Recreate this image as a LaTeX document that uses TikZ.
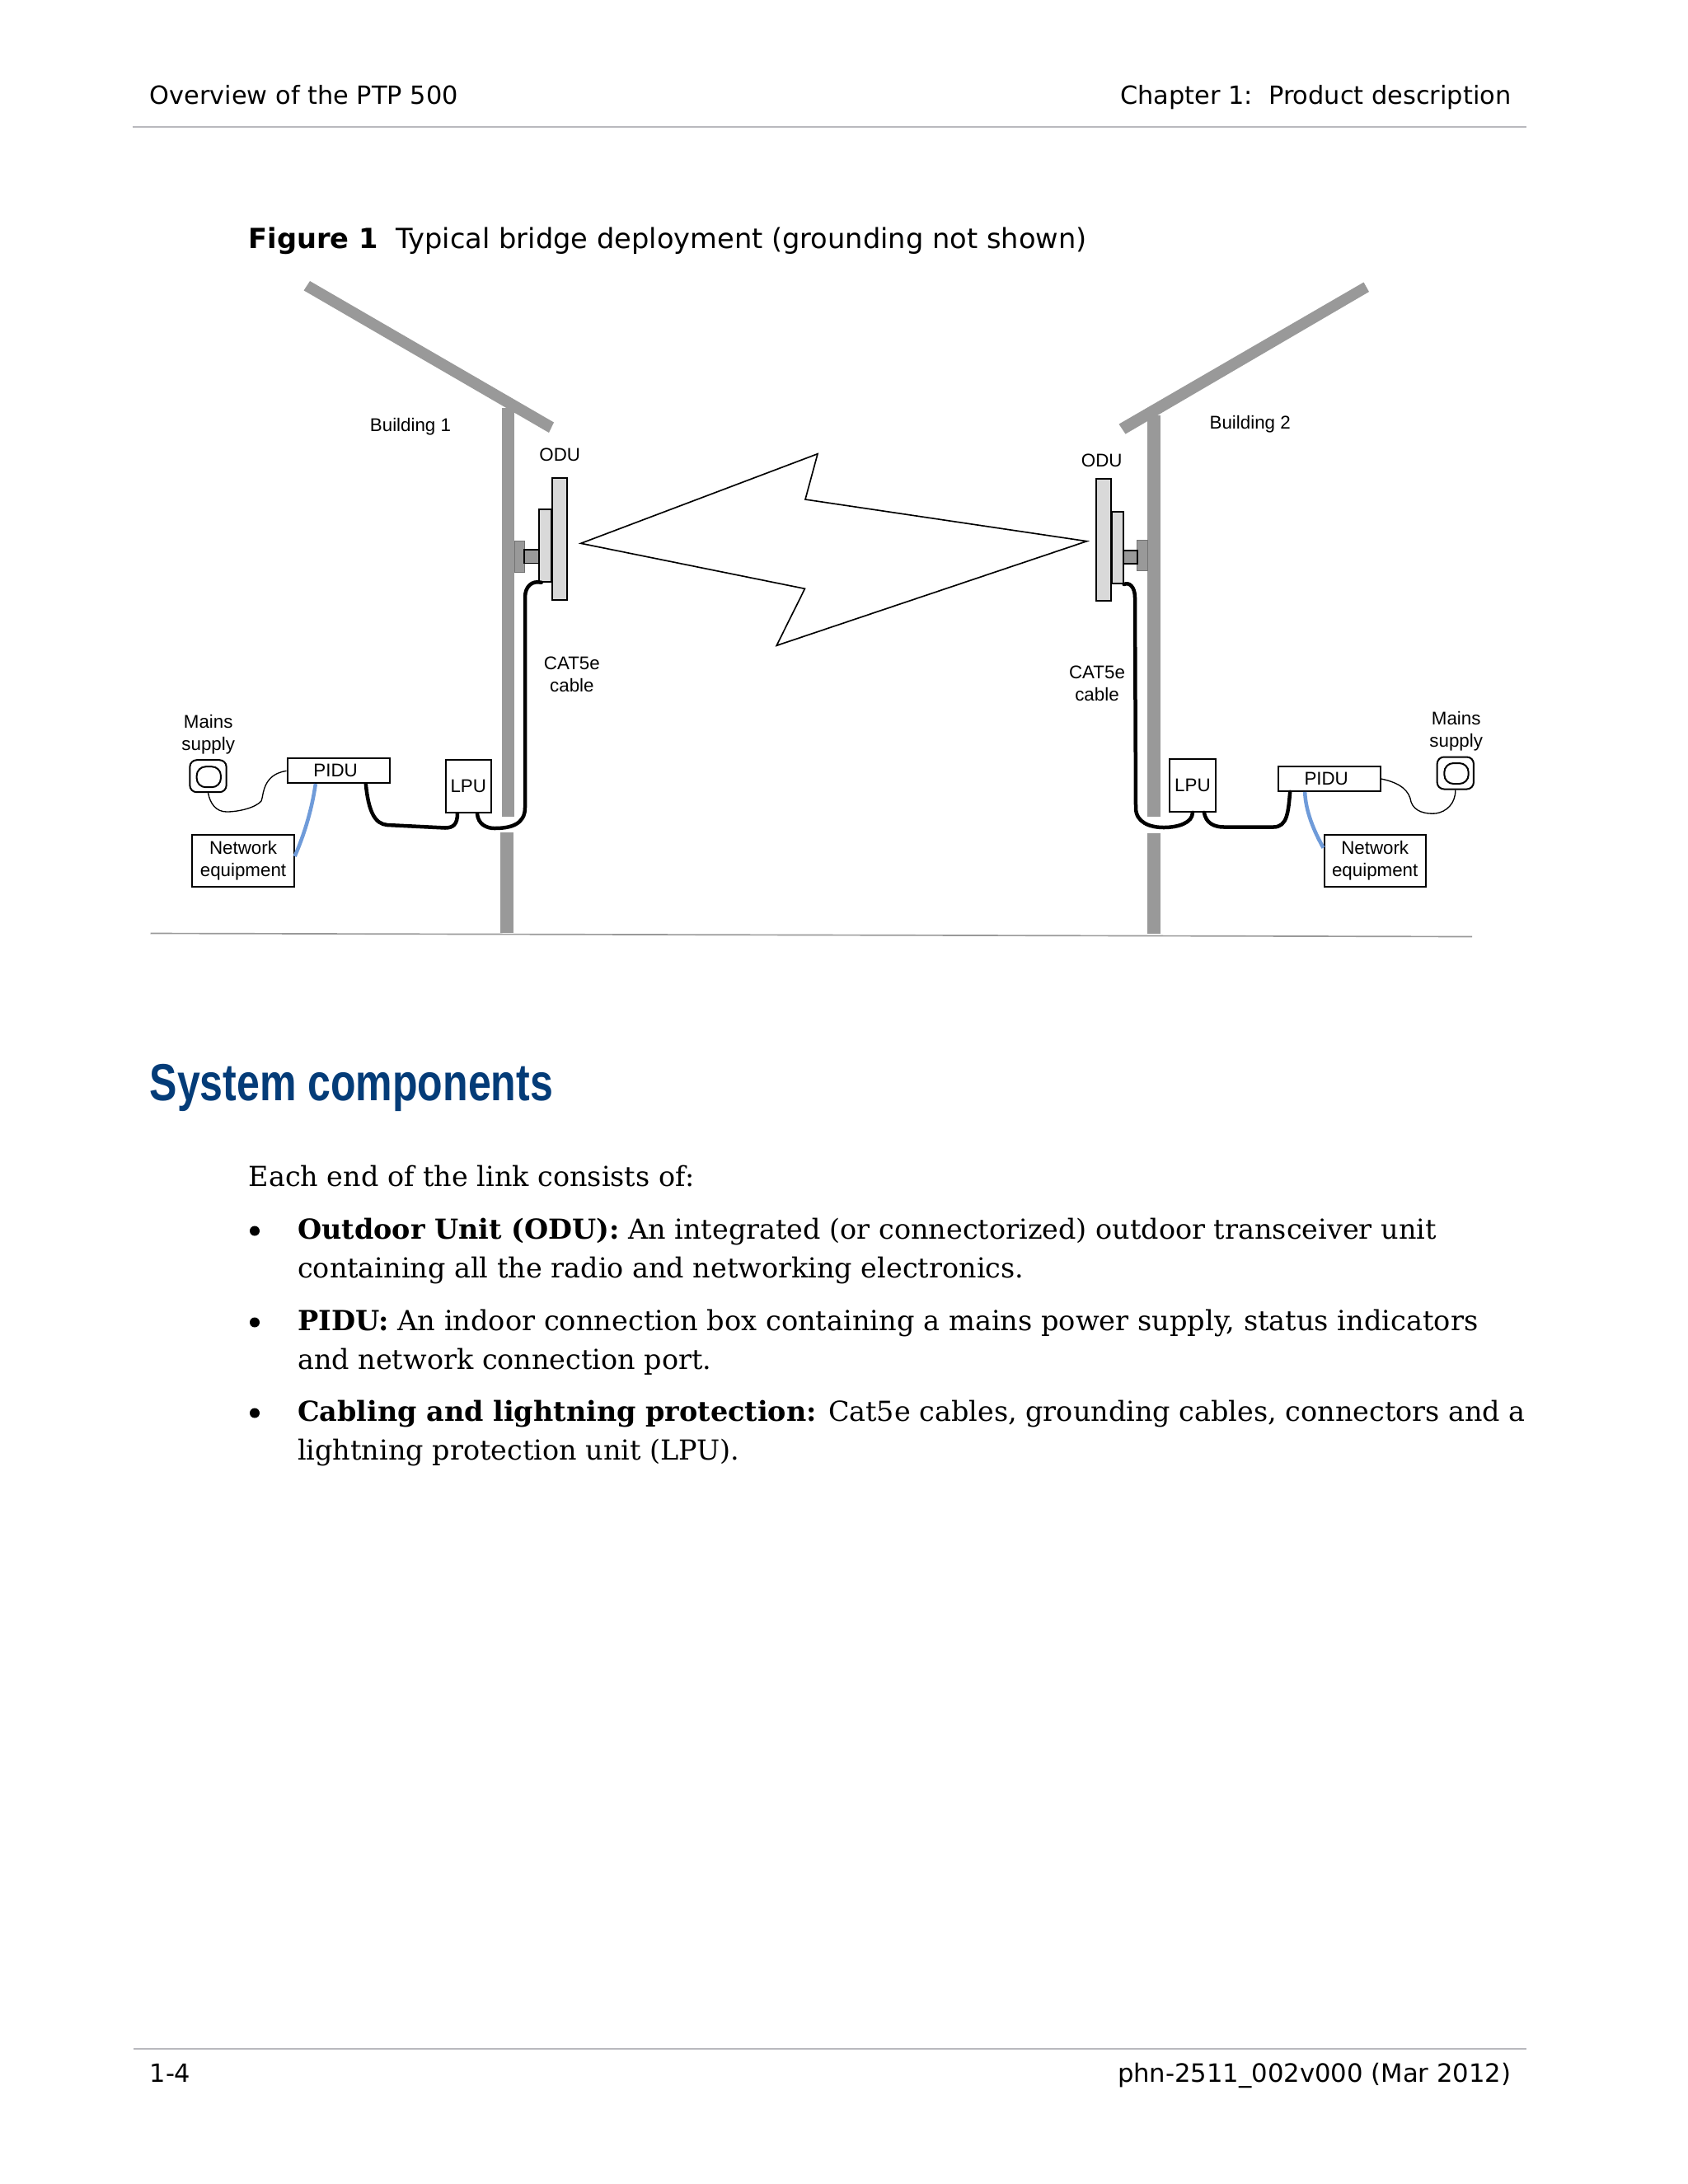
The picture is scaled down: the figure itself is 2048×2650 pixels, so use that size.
\documentclass[tikz,border=0pt]{standalone}
\usepackage{fontspec}
\usepackage{xcolor}
\usepackage{tikz}
\setmainfont{DejaVu Sans}
\newfontfamily\diagfont{Liberation Sans}
\newfontfamily\bodyfont{DejaVu Serif}
\newfontfamily\titlefont[FakeStretch=0.79]{Liberation Sans}
\definecolor{ptpGrey}{RGB}{153,153,153}
\definecolor{ptpPanel}{RGB}{217,217,217}
\definecolor{ptpRule}{RGB}{185,185,190}
\definecolor{ptpBlue}{RGB}{111,155,217}
\definecolor{ptpTitle}{RGB}{4,60,120}
\tikzset{
  ptp/box/.style={draw, line width=0.6pt, inner sep=0pt, align=center, fill=white,
                  font=\diagfont\fontsize{6.7}{8}\selectfont},
  ptp/pidu/.style={ptp/box, minimum width=37.2pt, minimum height=8.9pt},
  ptp/lpu/.style={ptp/box, minimum width=16.6pt, minimum height=19.2pt},
  ptp/net/.style={ptp/box, minimum width=37pt, minimum height=18.9pt},
  ptp/outlet/.style={draw, line width=0.6pt, rounded corners=2.5pt, inner sep=0pt,
                     minimum width=13.3pt, minimum height=11.7pt},
  ptp/socket/.style={draw, line width=0.6pt, rounded corners=3.3pt, inner sep=0pt,
                     minimum width=8.8pt, minimum height=7.5pt},
  ptp/panel/.style={draw, line width=0.65pt, fill=ptpPanel, inner sep=0pt},
  ptp/wall/.style={fill=ptpGrey},
  ptp/cable/.style={draw, line width=1.35pt, line cap=round},
  ptp/mains/.style={draw, line width=0.4pt},
  ptp/lan/.style={draw=ptpBlue, line width=1.35pt},
  ptp/rule/.style={draw=ptpRule, line width=0.5pt},
  ptp/lbl/.style={font=\diagfont\fontsize{6.7}{8}\selectfont, align=center, inner sep=0pt},
  ptp/head/.style={font=\fontsize{9.12}{11}\selectfont, inner sep=0pt},
  ptp/text/.style={font=\bodyfont\fontsize{10.03}{12}\selectfont, inner sep=0pt, anchor=base west},
}

\begin{document}
\begin{tikzpicture}[x=0.3pt, y=-0.3pt]
  \useasboundingbox (0,0) rectangle (2048,2650);

  % ---------------- page furniture ----------------
  \node[ptp/head, anchor=base west] (headl) at (181,126) {Overview of the PTP 500};
  \node[ptp/head, anchor=base east] (headr) at (1834,126) {Chapter 1:\ \ Product description};
  \draw[ptp/rule] (160.5,154) -- (1852,154);
  \node[ptp/head, font=\fontsize{10.1}{12}\selectfont, anchor=base west] (figcap) at (301,301)
    {\textbf{Figure 1}\ \ Typical bridge deployment (grounding not shown)};

  % ---------------- buildings ----------------
  \fill[ptp/wall] (376,341) -- (672,512.5) -- (666,525) -- (368.6,352.4) -- cycle;
  \fill[ptp/wall] (608.5,495) rectangle (624,990.5);
  \fill[ptp/wall] (606.6,1009.5) rectangle (622.7,1131.7);
  \fill[ptp/wall] (1654.5,342.5) -- (1661,354) -- (1365.5,526.6) -- (1357.5,514.6) -- cycle;
  \fill[ptp/wall] (1392,504) rectangle (1407.6,991);
  \fill[ptp/wall] (1392,1010.7) rectangle (1407.6,1133);
  \draw[draw=black!40, line width=0.5pt] (182.5,1132.5) -- (1786,1136.5);
  \node[ptp/lbl] (builda) at (498,518) {Building 1};
  \node[ptp/lbl] (buildb) at (1516.7,514.5) {Building 2};

  % ---------------- ODUs ----------------
  \fill[ptp/wall, draw=black!55, line width=0.2pt] (624,656.3) rectangle (636.5,694);
  \draw[fill=ptpGrey, line width=0.5pt] (635.7,666.8) rectangle (653.7,683.5);
  \node[ptp/panel, minimum width=4.6pt, minimum height=26.2pt] (oduaback) at (661.7,662) {};
  \node[ptp/panel, minimum width=5.4pt, minimum height=44.5pt] (oduafront) at (679,654) {};
  \node[ptp/lbl] (oduatxt) at (679.3,551.7) {ODU};

  \fill[ptp/wall, draw=black!55, line width=0.2pt] (1379.7,655) rectangle (1392,692.4);
  \draw[fill=ptpGrey, line width=0.5pt] (1362.5,668.3) rectangle (1379.7,684);
  \node[ptp/panel, minimum width=4.2pt, minimum height=26.2pt] (odubback) at (1355.6,664.3) {};
  \node[ptp/panel, minimum width=5.4pt, minimum height=44.5pt] (odubfront) at (1339.3,655) {};
  \node[ptp/lbl] (odubtxt) at (1336.8,558.5) {ODU};

  % ---------------- radio link ----------------
  \draw[line width=0.5pt] (704.7,659.3) -- (992,550.7) -- (977,606) -- (1318.6,656.7)
    -- (942.2,783.3) -- (976.5,714.3) -- cycle;

  % ---------------- left end ----------------
  \node[ptp/outlet] (outleta) at (252.5,941.7) {};
  \node[ptp/socket] (socketa) at (253.3,942.7) {};
  \node[ptp/lbl] (mainsa) at (252.7,891.5) {Mains\\supply};
  \node[ptp/pidu] (pidua) at (410.5,935.3) {PIDU\kern2pt};
  \node[ptp/lpu] (lpua) at (568.3,954.2) {LPU};
  \node[ptp/net] (neta) at (295,1044) {Network\\equipment};
  \node[ptp/lbl] (cata) at (693.9,818) {CAT5e\\cable};

  \draw[ptp/mains] (outleta.south) .. controls (255,975) and (262,985) .. (275,985)
    .. controls (290,985) and (310,980) .. (317,972)
    .. controls (320,965) and (318,940) .. (pidua.west);
  \draw[ptp/lan] ([xshift=-8.3pt]pidua.south) .. controls (378,985) and (368,1015)
    .. ([yshift=1.5pt]neta.east);
  \draw[ptp/cable] ([xshift=10pt]pidua.south) .. controls (447,985) and (455,1000) .. (470,1001)
    -- (540,1004.5) .. controls (550,1004.5) and (555,1000) .. ([xshift=-4pt]lpua.south);
  \draw[ptp/cable] ([xshift=3.2pt]lpua.south) .. controls (580,1000) and (590,1005) .. (600,1005)
    .. controls (620,1005) and (637,1000) .. (637,980) -- (637,725)
    .. controls (637,712) and (645,704) .. ([xshift=-1.5pt]oduaback.south);

  % ---------------- right end ----------------
  \node[ptp/outlet] (outletb) at (1765.8,938) {};
  \node[ptp/socket] (socketb) at (1767,938.5) {};
  \node[ptp/lbl] (mainsb) at (1766.7,887.5) {Mains\\supply};
  \node[ptp/pidu] (pidub) at (1612.5,945) {PIDU\kern2pt};
  \node[ptp/lpu] (lpub) at (1446.9,952.9) {LPU};
  \node[ptp/net] (netb) at (1668.2,1044) {Network\\equipment};
  \node[ptp/lbl] (catb) at (1331,829) {CAT5e\\cable};

  \draw[ptp/mains] (pidub.east) .. controls (1700,950) and (1710,960) .. (1712,973)
    .. controls (1716,985) and (1730,988) .. (1742,987)
    .. controls (1755,985) and (1766,975) .. (outletb.south);
  \draw[ptp/lan] ([xshift=-8.8pt]pidub.south) .. controls (1584,985) and (1595,1010)
    .. ([yshift=4.6pt]netb.west);
  \draw[ptp/cable] ([xshift=-14.2pt]pidub.south) .. controls (1563,985) and (1562,1003.5) .. (1545,1003.5)
    -- (1485,1003.5) .. controls (1472,1003.5) and (1463,998) .. ([xshift=4.2pt]lpub.south);
  \draw[ptp/cable] (lpub.south) .. controls (1447,998) and (1430,1004) .. (1412,1004)
    .. controls (1395,1004) and (1378,998) .. (1378,980) -- (1377,725)
    .. controls (1377,712) and (1370,706) .. (odubback.south east);

  % ---------------- section text ----------------
  \node[font=\titlefont\bfseries\fontsize{19}{22}\selectfont, text=ptpTitle, inner sep=0pt,
        anchor=base west] (title) at (181,1335) {System components};
  \node[ptp/text] (intro) at (301,1439) {Each end of the link consists of:};
  \node[ptp/text] (lineA) at (360.5,1503)
    {\textbf{Outdoor Unit (ODU):} An integrated (or connectorized) outdoor transceiver unit};
  \node[ptp/text] (lineB) at (360.5,1550) {containing all the radio and networking electronics.};
  \node[ptp/text, font=\bodyfont\fontsize{10.08}{12}\selectfont] (lineC) at (360.5,1614)
    {\textbf{PIDU:} An indoor connection box containing a mains power supply, status indicators};
  \node[ptp/text] (lineD) at (360.5,1661) {and network connection port.};
  \node[ptp/text] (lineE) at (360.5,1724)
    {\textbf{Cabling and lightning protection:} Cat5e cables, grounding cables, connectors and a};
  \node[ptp/text] (lineF) at (360.5,1771) {lightning protection unit (LPU).};
  \foreach \y/\n in {1503/bula, 1614/bulb, 1724/bulc}
    \fill (309,\y-9.5) circle[radius=6];

  % ---------------- footer ----------------
  \draw[ptp/rule] (162,2486) -- (1852,2486);
  \node[ptp/head, anchor=base west] (footl) at (181,2526) {1-4};
  \node[ptp/head, font=\fontsize{9.2}{11}\selectfont, anchor=base east] (footr) at (1834,2526)
    {phn-2511\_002v000 (Mar 2012)};

\end{tikzpicture}
\end{document}
